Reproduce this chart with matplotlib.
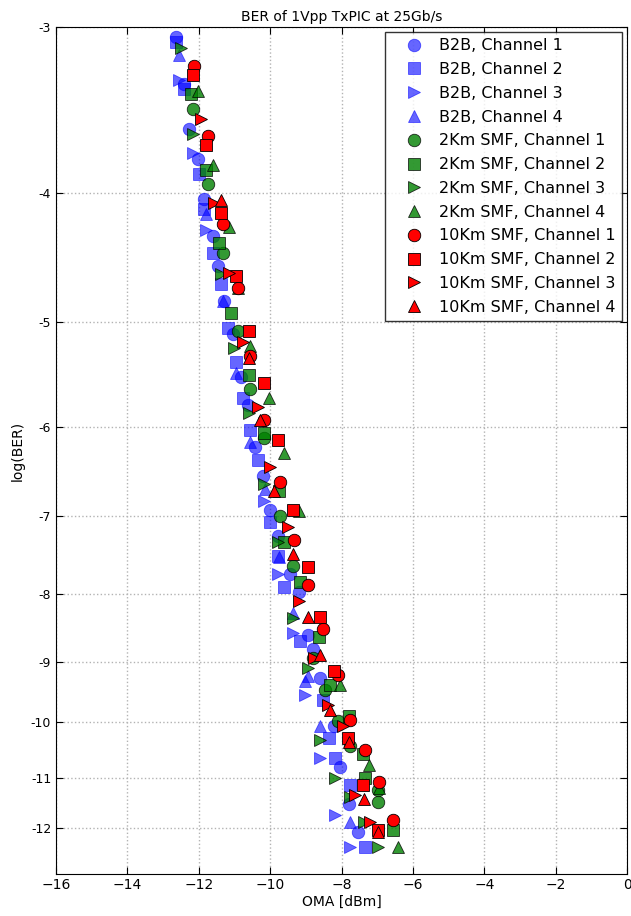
import numpy as np
import matplotlib
matplotlib.use('Agg')
import matplotlib.pyplot as plt

# OMA [dBm] / log(BER), one pair of lists per series
b2b_ch1_x = [-12.64, -12.42, -12.28, -12.03, -11.86, -11.61, -11.47, -11.30, -11.05, -10.83, -10.63, -10.41,
             -10.21, -9.99, -9.79, -9.43, -9.20, -8.95, -8.81, -8.59, -8.22, -8.03, -7.80, -7.55]
b2b_ch1_y = [-3.05, -3.31, -3.58, -3.77, -4.04, -4.31, -4.54, -4.82, -5.10, -5.50, -5.77, -6.21,
             -6.53, -6.92, -7.24, -7.73, -7.98, -8.60, -8.80, -9.26, -10.06, -10.81, -11.52, -12.09]
b2b_ch2_x = [-12.64, -12.42, -12.00, -11.86, -11.61, -11.38, -11.19, -10.97, -10.77, -10.55, -10.35, -9.99,
             -9.79, -9.62, -9.15, -8.53, -8.36, -8.17, -7.75, -7.33]
b2b_ch2_y = [-3.08, -3.34, -3.87, -4.11, -4.44, -4.68, -5.05, -5.36, -5.70, -6.03, -6.35, -7.07,
             -7.50, -7.91, -8.69, -9.62, -10.27, -10.63, -11.15, -12.40]
b2b_ch3_x = [-12.56, -12.17, -11.80, -10.18, -9.79, -9.37, -9.01, -8.59, -8.17, -7.75]
b2b_ch3_y = [-3.29, -3.73, -4.26, -6.82, -7.73, -8.57, -9.54, -10.63, -11.74, -12.40]
b2b_ch4_x = [-12.56, -11.80, -11.33, -10.97, -10.55, -10.13, -9.76, -9.37, -8.95, -9.01, -8.59, -7.75]
b2b_ch4_y = [-3.15, -4.15, -4.82, -5.46, -6.15, -6.68, -7.51, -8.28, -9.23, -9.31, -10.06, -11.88]

smf2_ch1_x = [-12.17, -11.75, -11.33, -10.91, -10.55, -10.18, -9.71, -9.37, -8.80, -8.45, -8.11, -7.75,
              -6.99, -6.97]
smf2_ch1_y = [-3.46, -3.94, -4.44, -5.08, -5.61, -6.11, -7.00, -7.63, -8.95, -9.45, -9.97, -10.41,
              -11.25, -11.48]
smf2_ch2_x = [-12.22, -11.80, -11.44, -11.10, -10.60, -10.18, -9.76, -9.62, -9.15, -8.64, -8.31, -7.80,
              -7.41, -7.33, -6.57]
smf2_ch2_y = [-3.37, -3.84, -4.36, -4.92, -5.48, -6.06, -6.70, -7.32, -7.84, -8.62, -9.37, -9.89,
              -10.57, -11.00, -12.05]
smf2_ch3_x = [-12.50, -12.17, -11.38, -11.02, -10.60, -10.18, -9.79, -9.37, -8.95, -8.59, -8.17, -7.75,
              -7.38, -6.97]
smf2_ch3_y = [-3.11, -3.61, -4.60, -5.23, -5.85, -6.62, -7.32, -8.35, -9.10, -10.30, -11.00, -11.38,
              -11.88, -12.40]
smf2_ch4_x = [-12.03, -11.61, -11.16, -10.91, -10.55, -10.04, -9.62, -9.20, -8.03, -7.24, -6.94, -6.43]
smf2_ch4_y = [-3.35, -3.81, -4.24, -4.71, -5.21, -5.70, -6.27, -6.94, -9.37, -10.77, -11.20, -12.40]

smf10_ch1_x = [-12.14, -11.75, -11.33, -10.91, -10.55, -10.18, -9.73, -9.34, -8.95, -8.53, -8.11, -7.75,
               -7.33, -6.94, -6.55]
smf10_ch1_y = [-3.21, -3.62, -4.22, -4.71, -5.30, -5.92, -6.60, -7.29, -7.88, -8.50, -9.21, -9.95,
               -10.48, -11.09, -11.84]
smf10_ch2_x = [-12.17, -11.80, -11.38, -10.97, -10.60, -10.18, -9.79, -9.37, -8.95, -8.59, -8.20, -7.83,
               -7.41, -6.99]
smf10_ch2_y = [-3.26, -3.68, -4.14, -4.62, -5.08, -5.56, -6.13, -6.92, -7.64, -8.33, -9.15, -10.27,
               -11.15, -12.05]
smf10_ch3_x = [-11.94, -11.58, -11.16, -10.77, -10.35, -9.99, -9.51, -9.20, -8.78, -8.39, -7.97, -7.61,
               -7.19]
smf10_ch3_y = [-3.52, -4.07, -4.59, -5.18, -5.79, -6.43, -7.13, -8.10, -8.95, -9.70, -10.06, -11.34,
               -11.88]
smf10_ch4_x = [-11.38, -10.60, -10.27, -9.90, -9.37, -8.95, -8.59, -8.31, -7.80, -7.38, -6.99]
smf10_ch4_y = [-4.05, -5.32, -5.92, -6.70, -7.47, -8.33, -8.90, -9.79, -10.35, -11.42, -12.09]

series = [
    (b2b_ch1_x, b2b_ch1_y, 'B2B, Channel 1'),
    (b2b_ch2_x, b2b_ch2_y, 'B2B, Channel 2'),
    (b2b_ch3_x, b2b_ch3_y, 'B2B, Channel 3'),
    (b2b_ch4_x, b2b_ch4_y, 'B2B, Channel 4'),
    (smf2_ch1_x, smf2_ch1_y, '2Km SMF, Channel 1'),
    (smf2_ch2_x, smf2_ch2_y, '2Km SMF, Channel 2'),
    (smf2_ch3_x, smf2_ch3_y, '2Km SMF, Channel 3'),
    (smf2_ch4_x, smf2_ch4_y, '2Km SMF, Channel 4'),
    (smf10_ch1_x, smf10_ch1_y, '10Km SMF, Channel 1'),
    (smf10_ch2_x, smf10_ch2_y, '10Km SMF, Channel 2'),
    (smf10_ch3_x, smf10_ch3_y, '10Km SMF, Channel 3'),
    (smf10_ch4_x, smf10_ch4_y, '10Km SMF, Channel 4'),
]
markers = ['o', 's', '>', '^']
colors = ['b', 'g', 'r']
alphas = [0.6, 0.8, 1.0]

fig = plt.figure(figsize=(6.31, 9.16), dpi=100)
ax = fig.add_axes([56 / 631, 1 - 874 / 916, 571 / 631, (874 - 27) / 916])

for i, (x, y, label) in enumerate(series):
    c = colors[i // 4]
    edge = c if i < 4 else 'k'
    ax.plot(x, y, linestyle='none', marker=markers[i % 4], ms=9, color=c,
            markeredgecolor=edge, markeredgewidth=0.6, alpha=alphas[i // 4], label=label)

# log(BER) axis is drawn on a log(-log(BER)) scale
ax.set_yscale('function', functions=(lambda v: -np.log10(np.abs(v)), lambda t: -10 ** (-t)))
ax.set_ylim(-13.0, -3)
ax.set_xlim(-16, 0)
ax.set_yticks(range(-12, -2))
ax.set_yticklabels([str(v) for v in range(-12, -2)], fontsize=9)
ax.set_xticks(range(-16, 1, 2))
ax.tick_params(axis='x', labelsize=10, pad=3)
ax.tick_params(direction='in', top=True, right=True, length=5)
ax.yaxis.set_minor_locator(matplotlib.ticker.NullLocator())
ax.grid(True, color='0.7', linestyle=':', linewidth=1)

ax.set_title('BER of 1Vpp TxPIC at 25Gb/s', fontsize=10, pad=4)
ax.set_xlabel('OMA [dBm]', fontsize=10, labelpad=2)
ax.set_ylabel('log(BER)', fontsize=10)

leg = ax.legend(loc='upper right', numpoints=1, fontsize=11.5, fancybox=False,
                labelspacing=0.55, borderaxespad=0.3, handlelength=2.8, handletextpad=0.2)
leg.get_frame().set_edgecolor('k')
leg.get_frame().set_linewidth(1)

fig.savefig('out.png', dpi=100)
